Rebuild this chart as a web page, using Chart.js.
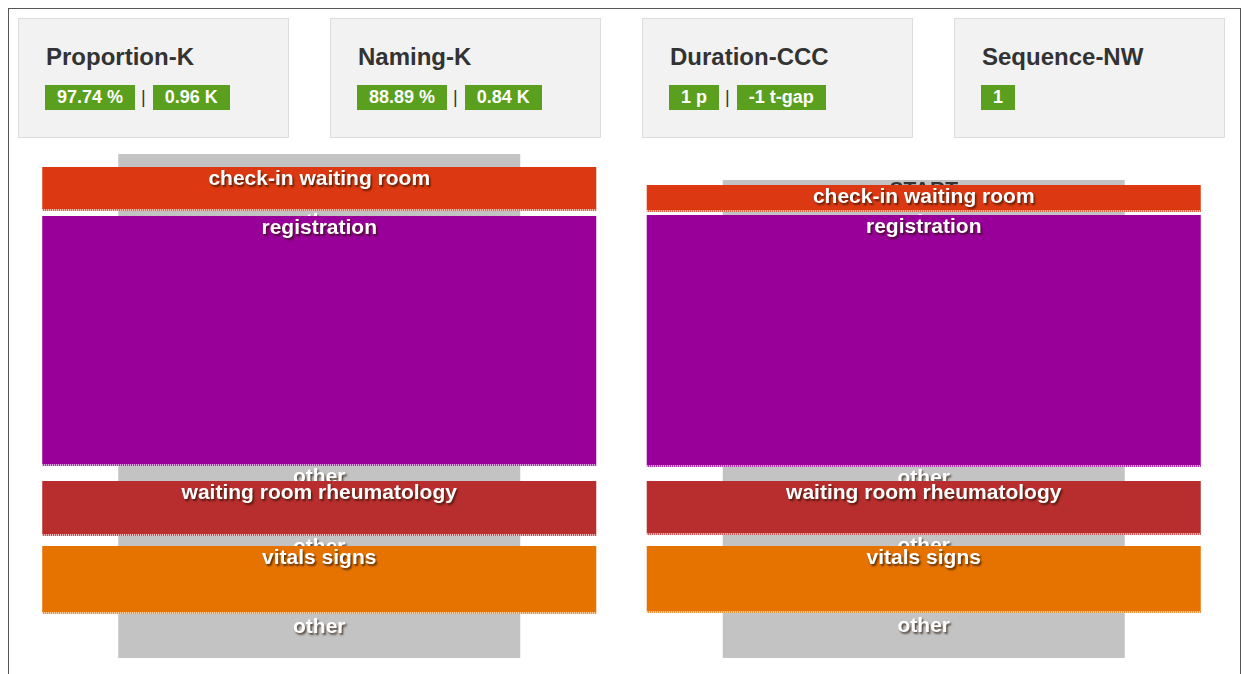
<!DOCTYPE html>
<html>
<head>
<meta charset="utf-8">
<script src="https://cdn.jsdelivr.net/npm/chart.js@4.4.1/dist/chart.umd.min.js"></script>
<style>
html,body{margin:0;padding:0;background:#fff;overflow:hidden;}
body{width:1245px;height:674px;position:relative;font-family:"Liberation Sans",Arial,sans-serif;}
#frame{position:absolute;left:8px;top:8px;width:1233px;height:720px;border:1px solid #555;box-sizing:border-box;}
.card{position:absolute;top:18px;width:271px;height:120px;background:#f2f2f2;border:1px solid #dcdcdc;box-sizing:border-box;}
.card .title{position:absolute;left:27px;top:25px;font-size:24px;line-height:26px;font-weight:bold;color:#333;white-space:nowrap;}
.card .badges{position:absolute;left:26px;top:66px;display:flex;align-items:center;}
.badge{background:#5aa01e;color:#fff;font-weight:bold;font-size:18px;height:25px;line-height:25px;padding:0 12px;white-space:nowrap;}
.sep{margin:0 7px 0 6px;color:#333;font-size:18px;line-height:25px;}
#chartWrap{position:absolute;left:17px;top:150px;width:1209px;height:512px;}
</style>
</head>
<body>
<div id="frame"></div>
<div id="cards"></div>
<div id="chartWrap"><canvas id="c"></canvas></div>
<script>
// ---- summary cards ----
const cardTitles = ['Proportion-K', 'Naming-K', 'Duration-CCC', 'Sequence-NW'];
const cardBadges = [['97.74 %', '0.96 K'], ['88.89 %', '0.84 K'], ['1 p', '-1 t-gap'], ['1']];

// ---- process columns (time runs downward) ----
const columns = ['trace A', 'trace B'];
const activityNames = ['check-in waiting room', 'registration', 'waiting room rheumatology', 'vitals signs'];
const processSpan = [[4, 508], [30, 508]];
const checkInSpan = [[17, 61], [35, 62]];
const registrationSpan = [[66, 316], [65, 317]];
const rheumatologySpan = [[331, 386], [331, 385]];
const vitalsSpan = [[396, 464], [396, 463]];
const startLabels = ['', 'START'];
const gapLabel = 'other';

const activityColors = ['#dc3912', '#990099', '#b82e2e', '#e67300'];
const activitySpans = [checkInSpan, registrationSpan, rheumatologySpan, vitalsSpan];

// build cards
const cardsEl = document.getElementById('cards');
cardTitles.forEach((t, i) => {
  const card = document.createElement('div');
  card.className = 'card';
  card.style.left = (18 + i * 312) + 'px';
  const title = document.createElement('div');
  title.className = 'title';
  title.textContent = t;
  card.appendChild(title);
  const b = document.createElement('div');
  b.className = 'badges';
  cardBadges[i].forEach((txt, j) => {
    if (j > 0) {
      const s = document.createElement('span');
      s.className = 'sep';
      s.textContent = '|';
      b.appendChild(s);
    }
    const badge = document.createElement('span');
    badge.className = 'badge';
    badge.textContent = txt;
    b.appendChild(badge);
  });
  card.appendChild(b);
  cardsEl.appendChild(card);
});

const FONT = '"Liberation Sans", Arial, sans-serif';

function setShadow(ctx) {
  ctx.shadowColor = 'rgba(40,20,0,0.7)';
  ctx.shadowOffsetX = 1.5;
  ctx.shadowOffsetY = 2;
  ctx.shadowBlur = 2;
}

const labelPlugin = {
  id: 'processLabels',
  afterDatasetDraw(chart, args) {
    if (args.index !== 0) return;
    const ctx = chart.ctx;
    const y = chart.scales.y;
    const meta = chart.getDatasetMeta(0);
    ctx.save();
    ctx.font = 'bold 21px ' + FONT;
    ctx.textAlign = 'center';
    ctx.textBaseline = 'middle';
    columns.forEach((col, ci) => {
      const cx = meta.data[ci].x;
      if (startLabels[ci]) {
        ctx.shadowColor = 'transparent';
        ctx.fillStyle = '#333';
        ctx.fillText(startLabels[ci], cx, y.getPixelForValue(processSpan[ci][0]) + 10);
      }
      setShadow(ctx);
      ctx.fillStyle = '#fff';
      activitySpans.forEach((sp, k) => {
        const off = k === activitySpans.length - 1 ? 13 : 11;
        ctx.fillText(gapLabel, cx, y.getPixelForValue(sp[ci][1]) + off);
      });
      ctx.shadowColor = 'transparent';
    });
    ctx.restore();
  },
  afterDatasetsDraw(chart) {
    const ctx = chart.ctx;
    ctx.save();
    for (let d = 1; d < chart.data.datasets.length; d++) {
      const meta = chart.getDatasetMeta(d);
      meta.data.forEach(el => {
        const bottom = Math.max(el.y, el.base);
        const top = Math.min(el.y, el.base);
        const left = el.x - el.width / 2, right = el.x + el.width / 2;
        ctx.save();
        ctx.strokeStyle = 'rgba(255,255,255,0.85)';
        ctx.lineWidth = 2;
        ctx.setLineDash([1, 1]);
        ctx.beginPath();
        ctx.moveTo(left, bottom - 1);
        ctx.lineTo(right, bottom - 1);
        ctx.stroke();
        ctx.restore();
        ctx.save();
        ctx.font = 'bold 21px ' + FONT;
        ctx.textAlign = 'center';
        ctx.textBaseline = 'middle';
        setShadow(ctx);
        ctx.fillStyle = '#fff';
        ctx.fillText(chart.data.datasets[d].label, el.x, top + 12);
        ctx.restore();
      });
    }
    ctx.restore();
  }
};

const datasets = [{
  label: gapLabel,
  data: processSpan,
  backgroundColor: '#c3c3c3',
  barPercentage: 0.665,
  categoryPercentage: 1,
  grouped: false,
  order: 2,
  borderWidth: 0
}];
activityNames.forEach((name, i) => {
  datasets.push({
    label: name,
    data: activitySpans[i],
    backgroundColor: activityColors[i],
    barPercentage: 0.9165,
    categoryPercentage: 1,
    grouped: false,
    order: 1,
    borderWidth: 0
  });
});

new Chart(document.getElementById('c'), {
  type: 'bar',
  data: { labels: columns, datasets },
  options: {
    responsive: true,
    maintainAspectRatio: false,
    animation: false,
    layout: { padding: 0 },
    plugins: { legend: { display: false }, tooltip: { enabled: false } },
    scales: {
      x: { type: 'category', display: false, offset: true },
      y: { type: 'linear', display: false, min: 0, max: 512, reverse: true }
    }
  },
  plugins: [labelPlugin]
});
</script>
</body>
</html>
